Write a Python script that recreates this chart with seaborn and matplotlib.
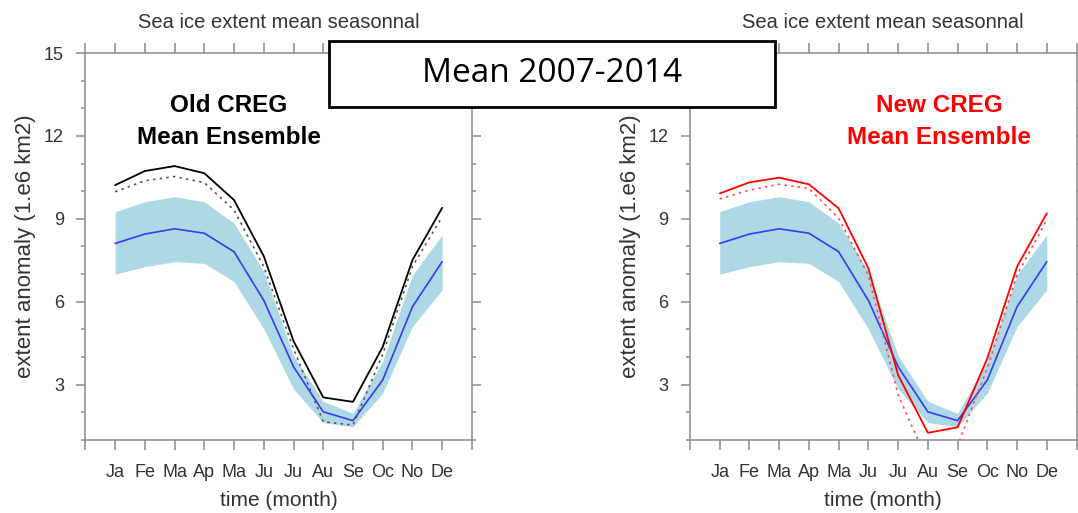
import numpy as np
import matplotlib
matplotlib.use("Agg")
import matplotlib.pyplot as plt
import seaborn as sns
from matplotlib.patches import Rectangle
from matplotlib.ticker import MultipleLocator

# datos
months = ["Ja", "Fe", "Ma", "Ap", "Ma", "Ju", "Ju", "Au", "Se", "Oc", "No", "De"]
month_num = list(range(1, 13))

ens_mean = [8.11, 8.45, 8.64, 8.48, 7.81, 6.05, 3.65, 2.02, 1.70, 3.17, 5.82, 7.45]
ens_upper = [9.26, 9.62, 9.80, 9.62, 8.84, 7.10, 4.05, 2.40, 1.96, 3.85, 6.97, 8.42]
ens_lower = [7.00, 7.27, 7.45, 7.39, 6.73, 5.02, 2.85, 1.63, 1.48, 2.70, 5.10, 6.43]

old_creg = [10.22, 10.73, 10.91, 10.65, 9.68, 7.65, 4.58, 2.54, 2.38, 4.37, 7.51, 9.40]
old_creg_dot = [9.98, 10.38, 10.53, 10.31, 9.32, 7.27, 4.30, 1.66, 1.54, 4.10, 7.27, 9.08]
new_creg = [9.92, 10.32, 10.49, 10.25, 9.38, 7.21, 3.35, 1.26, 1.46, 3.95, 7.27, 9.20]
new_creg_dot = [9.72, 10.04, 10.25, 10.10, 9.02, 6.95, 2.63, 0.20, 0.80, 3.60, 6.97, 8.96]

title = "Sea ice extent mean seasonnal"
panel_titles = ["Old CREG", "New CREG"]
panel_colors = ["black", "#ff0000"]
dot_colors = ["#555555", "#ff5050"]

sns.set_style("white")
plt.rcParams["font.family"] = ["Liberation Sans", "DejaVu Sans"]

W, H = 1078, 513
fig = plt.figure(figsize=(W / 100, H / 100), dpi=100)

spine_col = "#8a8a8a"
txt_col = "#333333"


def panel(left_px, model, model_dot, name, name_x, col, dcol):
    ax = fig.add_axes([left_px / W, 1 - 440 / H, 386.5 / W, 387 / H])
    ax.fill_between(month_num, ens_lower, ens_upper, color="#add8e6", lw=0, zorder=1)
    sns.lineplot(x=month_num, y=ens_mean, ax=ax, color="#3a3af0", lw=1.2, zorder=3)
    sns.lineplot(x=month_num, y=model_dot, ax=ax, color=dcol, lw=1.2,
                 ls=(0, (1.5, 2.5)), zorder=4)
    sns.lineplot(x=month_num, y=model, ax=ax, color=col, lw=1.3, zorder=5)

    ax.set_xlim(0, 13)
    ax.set_ylim(1, 15)
    ax.set_xticks(range(14))
    ax.set_xticklabels([""] + months + [""], fontsize=13, color=txt_col)
    ax.set_yticks([3, 6, 9, 12, 15])
    ax.set_yticklabels(["3", "6", "9", "12", "15"], fontsize=13, color=txt_col)
    ax.yaxis.set_minor_locator(MultipleLocator(1))
    ax.tick_params(which="both", direction="out", top=True, right=True,
                   bottom=True, left=True, color=spine_col, width=1.1)
    ax.tick_params(axis="y", which="major", length=6.5, pad=9)
    ax.tick_params(axis="y", which="minor", length=3)
    ax.tick_params(axis="x", which="major", length=7, pad=10)
    for s in ax.spines.values():
        s.set_color(spine_col)
        s.set_linewidth(1.1)

    ax.set_xlabel("time (month)", fontsize=15, color=txt_col)
    ax.xaxis.set_label_coords(0.5, -0.132)
    ax.set_ylabel("extent anomaly (1.e6 km2)", fontsize=16, color=txt_col)
    ax.yaxis.set_label_coords(-0.128, 0.5)
    ax.set_title(title, fontsize=14.5, color=txt_col, pad=18)

    ax.text(name_x, 0.8475, name, transform=ax.transAxes, ha="center",
            va="baseline", fontsize=17.5, fontweight="bold", color=col)
    ax.text(name_x, 0.765, "Mean Ensemble", transform=ax.transAxes, ha="center",
            va="baseline", fontsize=17.5, fontweight="bold", color=col)
    return ax


panel(85.4, old_creg, old_creg_dot, panel_titles[0], 0.3716,
      panel_colors[0], dot_colors[0])
panel(690, new_creg, new_creg_dot, panel_titles[1], 0.644,
      panel_colors[1], dot_colors[1])

# caja del periodo encima de todo (tapa el 15 del panel derecho como en el original)
fig.add_artist(Rectangle((329 / W, 1 - 107 / H), (775 - 329) / W, (107 - 40.7) / H,
                         transform=fig.transFigure, fc="white", ec="black", lw=2,
                         zorder=10))
fig.text(552 / W, 1 - 74 / H, "Mean 2007-2014", ha="center", va="center",
         fontsize=24, family=["Open Sans", "DejaVu Sans"], color="black", zorder=11)

fig.savefig("out.png", dpi=100)
